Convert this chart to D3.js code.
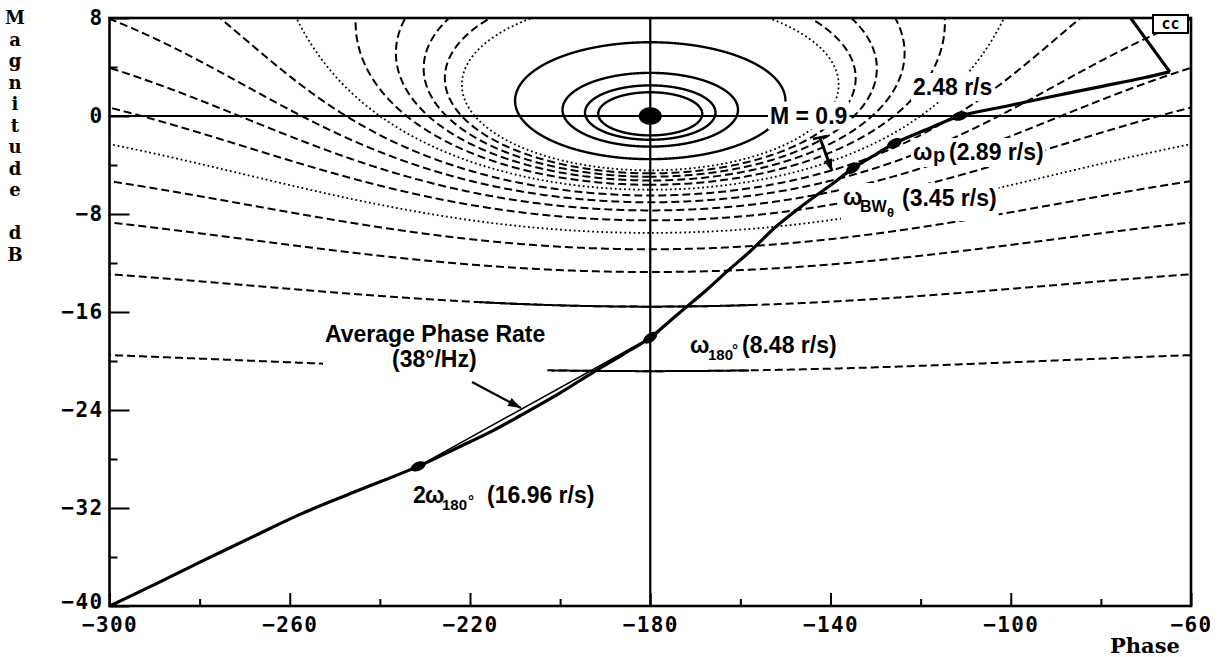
<!DOCTYPE html>
<html><head><meta charset="utf-8">
<script src="https://cdn.jsdelivr.net/npm/d3@7"></script>
<style>
html,body{margin:0;padding:0;background:#fff;}
svg{display:block;}
</style></head><body>
<svg id="chart" width="1218" height="657"></svg>
<script>
// ---------- data ----------
const phaseTicks = [-300,-260,-220,-180,-140,-100,-60];
const phaseMinorTicks = [-280,-240,-200,-160,-120,-80];
const magTicks = [8,0,-8,-16,-24,-32,-40];
const magMinorTicks = [4,-4,-12,-20,-28,-36];
// closed-loop magnitude contours (linear M)
const mDashed = [0.1,0.2,0.3,0.4,0.6,0.7,0.8,0.9,1.1,1.2,1.3,1.4];
const mDotted = [0.5,1.0,1.5];
const mSolid = [2,3,4,5];
// open-loop frequency response (phase deg, magnitude dB)
const responsePhase = [-300.5,-290.3,-279.8,-268.5,-257.6,-245,-231.5,-222.9,-215,-208.8,-200,-192.6,-186,-180,-176,-172,-167.5,-163,-158,-152,-146,-140,-135,-130,-125.8,-118,-111.3,-101,-91.4,-80,-70.7,-64.7];
const responseMag   = [-40.1,-38.3,-36.4,-34.4,-32.5,-30.6,-28.6,-27.1,-25.7,-24.45,-22.6,-20.9,-19.45,-18.1,-16.85,-15.6,-14.2,-12.7,-11.1,-9.0,-7.25,-5.65,-4.27,-3.15,-2.23,-1.0,0,0.8,1.55,2.4,3.1,3.6];
const returnPhase = [-64.7,-73.6,-74.5];
const returnMag   = [3.6,8.1,8.6];
// marked frequencies: 2w180, w180, wBW, wp, 2.48 r/s
const markerPhase = [-231.5,-180,-135,-125.8,-111.3];
const markerMag   = [-28.6,-18.1,-4.27,-2.23,0];

// ---------- setup ----------
const svg = d3.select("#chart");
const x = d3.scaleLinear().domain([-300,-60]).range([109.5,1191]);
const y = d3.scaleLinear().domain([-40,8]).range([606,18]);
const line = d3.line().x(d=>x(d[0])).y(d=>y(d[1]));

svg.append("defs").append("clipPath").attr("id","plot")
  .append("rect").attr("x",x(-300)).attr("y",y(8))
  .attr("width",x(-60)-x(-300)).attr("height",y(-40)-y(8));

function mContour(M){
  const pts=[];
  if (Math.abs(M-1)<1e-9){
    for(let s=-4; s<=4.0001; s+=0.004){
      const im=Math.sinh(s)*2, re=-0.5;
      let ph=Math.atan2(im,re)*180/Math.PI; if(ph>0) ph-=360;
      pts.push([ph,20*Math.log10(Math.hypot(re,im))]);
    }
    return pts;
  }
  const c=M*M/(1-M*M), R=M/Math.abs(1-M*M), N=4000;
  for(let i=0;i<=N;i++){
    const t=1e-6+(2*Math.PI-2e-6)*i/N;
    const re=c+R*Math.cos(t), im=R*Math.sin(t);
    let ph=Math.atan2(im,re)*180/Math.PI; if(ph>0) ph-=360;
    pts.push([ph,20*Math.log10(Math.hypot(re,im))]);
  }
  return pts;
}

const gc = svg.append("g").attr("clip-path","url(#plot)");
mDashed.forEach(M=>{
  gc.append("path").attr("d",line(mContour(M))).attr("fill","none")
    .attr("stroke","#000").attr("stroke-width",2).attr("stroke-dasharray","8,4");
});
mDotted.forEach(M=>{
  gc.append("path").attr("d",line(mContour(M))).attr("fill","none")
    .attr("stroke","#000").attr("stroke-width",1.8).attr("stroke-dasharray","1.8,2.8");
});
mSolid.forEach(M=>{
  gc.append("path").attr("d",line(mContour(M))+"Z").attr("fill","none")
    .attr("stroke","#000").attr("stroke-width",2.4);
});
// solid portions of the low-M contours near -180
[[0.2,-218,-157],[0.1,-202,-158]].forEach(([M,a,b])=>{
  const pts=mContour(M).filter(p=>p[0]>=a&&p[0]<=b);
  gc.append("path").attr("d",line(pts)).attr("fill","none")
    .attr("stroke","#000").attr("stroke-width",2);
});

// reference lines 0 dB and -180 deg
gc.append("line").attr("x1",x(-300)).attr("x2",x(-60)).attr("y1",y(0)).attr("y2",y(0))
  .attr("stroke","#000").attr("stroke-width",2.2);
gc.append("line").attr("x1",x(-180)).attr("x2",x(-180)).attr("y1",y(8)).attr("y2",y(-40))
  .attr("stroke","#000").attr("stroke-width",2.2);

// ---------- axes ----------
const tickFont = "'DejaVu Sans Mono', monospace";
const fmt = d => d<0 ? "\u2212"+Math.abs(d) : String(d);
const gxa = svg.append("g").attr("transform",`translate(0,${y(-40)})`)
  .call(d3.axisBottom(x).tickValues(phaseTicks).tickSize(-13).tickPadding(11).tickFormat(fmt));
const gxm = svg.append("g").attr("transform",`translate(0,${y(-40)})`)
  .call(d3.axisBottom(x).tickValues(phaseMinorTicks).tickSize(-7).tickFormat(""));
const gya = svg.append("g").attr("transform",`translate(${x(-300)},0)`)
  .call(d3.axisLeft(y).tickValues(magTicks).tickSize(-20).tickPadding(6).tickFormat(fmt));
const gym = svg.append("g").attr("transform",`translate(${x(-300)},0)`)
  .call(d3.axisLeft(y).tickValues(magMinorTicks).tickSize(-8).tickFormat(""));
[gxa,gxm,gya,gym].forEach(g=>{
  g.select(".domain").remove();
  g.selectAll("line").attr("stroke","#000").attr("stroke-width",2);
  g.selectAll("text").attr("font-family",tickFont).attr("font-weight","bold")
    .attr("font-size",21).attr("fill","#000").attr("letter-spacing","1.4px");
});
// lift the bottom y label clear of the x labels
gya.selectAll(".tick").filter(d=>d===-40).select("text").attr("dy","0.1em");

// frame
svg.append("rect").attr("x",x(-300)).attr("y",y(8))
  .attr("width",x(-60)-x(-300)).attr("height",y(-40)-y(8))
  .attr("fill","none").attr("stroke","#000").attr("stroke-width",2.6);

// axis titles
const ylab = ["M","a","g","n","i","t","u","d","e","","d","B"];
ylab.forEach((ch,i)=>{
  svg.append("text").attr("x",15).attr("y",24+21.5*i).attr("text-anchor","middle")
    .attr("font-family","'DejaVu Serif', serif").attr("font-weight","bold")
    .attr("font-size",18).text(ch);
});
svg.append("text").attr("x",1110).attr("y",653)
  .attr("font-family","'DejaVu Serif', serif").attr("font-weight","bold")
  .attr("font-size",21).text("Phase");

// ---------- annotations ----------
const annFont = "'Liberation Sans', Arial, sans-serif";
function label(parts){
  const g = svg.append("g");
  const r = g.append("rect").attr("fill","#fff");
  const t = g.append("text").attr("font-family",annFont).attr("font-weight","bold").attr("fill","#000");
  parts.forEach(p=>{
    t.append("tspan").attr("x",p[1]).attr("y",p[2]).attr("font-size",p[3]||23).text(p[0]);
  });
  const b = t.node().getBBox();
  r.attr("x",b.x-2).attr("y",b.y-1).attr("width",b.width+4).attr("height",b.height+2);
  return g;
}
label([["M = 0.9",770,123.5]]);
label([["2.48 r/s",913,95]]);
label([["\u03C9",913,160],["p",933,162,20],["(2.89 r/s)",949,160]]);
label([["\u03C9",843,205],["BW",860,212,16],["\u03B8",887,217,13],["(3.45 r/s)",902,206]]);
label([["\u03C9",690,353],["180",708,360,15],["\u00B0",732,355,15],["(8.48 r/s)",742,353]]);
label([["Average Phase Rate",325,342],["(38\u00B0/Hz)",392,367]]);
label([["2",413,503],["\u03C9",425,503],["180",442,510,15],["\u00B0",468,506,15],["(16.96 r/s)",487,503]]);

// cc box
svg.append("rect").attr("x",1153).attr("y",15).attr("width",35).attr("height",18)
  .attr("fill","#fff").attr("stroke","#000").attr("stroke-width",2);
svg.append("text").attr("x",1170.5).attr("y",29).attr("text-anchor","middle")
  .attr("font-family",tickFont).attr("font-weight","bold").attr("font-size",15).text("cc");

function arrow(x1,y1,x2,y2,hl,hw,sw){
  svg.append("line").attr("x1",x1).attr("y1",y1).attr("x2",x2).attr("y2",y2)
    .attr("stroke","#000").attr("stroke-width",sw);
  const a=Math.atan2(y2-y1,x2-x1), ux=Math.cos(a), uy=Math.sin(a);
  const bx=x2-ux*hl, by=y2-uy*hl;
  svg.append("polygon").attr("points",
    `${x2},${y2} ${bx-uy*hw/2},${by+ux*hw/2} ${bx+uy*hw/2},${by-ux*hw/2}`).attr("fill","#000");
}
arrow(472,382,521,408,13,9,2.2);
arrow(820,138,832,171,12,9,3);
svg.append("line").attr("x1",813).attr("y1",139).attr("x2",827).attr("y2",136)
  .attr("stroke","#000").attr("stroke-width",2.5);

// ---------- response curve ----------
const gr = svg.append("g").attr("clip-path","url(#plot)");
// average phase rate chord
gr.append("line").attr("x1",x(markerPhase[0])).attr("y1",y(markerMag[0]))
  .attr("x2",x(markerPhase[1])).attr("y2",y(markerMag[1]))
  .attr("stroke","#000").attr("stroke-width",1.6);
const resp = responsePhase.map((p,i)=>[p,responseMag[i]]);
gr.append("path").attr("d",d3.line().x(d=>x(d[0])).y(d=>y(d[1])).curve(d3.curveCatmullRom.alpha(0.5))(resp))
  .attr("fill","none").attr("stroke","#000").attr("stroke-width",3.2).attr("stroke-linejoin","round");
const ret = returnPhase.map((p,i)=>[p,returnMag[i]]);
gr.append("path").attr("d",line(ret))
  .attr("fill","none").attr("stroke","#000").attr("stroke-width",3.2).attr("stroke-linejoin","round");

// markers oriented along the curve
markerPhase.forEach((p,i)=>{
  const m=markerMag[i];
  const j = d3.bisectLeft(responsePhase,p);
  const a0 = resp[Math.max(0,j-1)], a1 = resp[Math.min(resp.length-1,j+1)];
  const ang = Math.atan2(y(a1[1])-y(a0[1]), x(a1[0])-x(a0[0]))*180/Math.PI;
  gr.append("ellipse").attr("cx",x(p)).attr("cy",y(m)).attr("rx",8).attr("ry",4.5)
    .attr("transform",`rotate(${ang},${x(p)},${y(m)})`).attr("fill","#000");
});

// critical point
svg.append("ellipse").attr("cx",x(-180)).attr("cy",y(0)).attr("rx",11.5).attr("ry",9).attr("fill","#000");
</script>
</body></html>
